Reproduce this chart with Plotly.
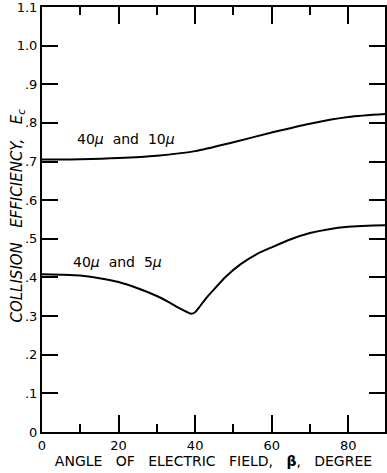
import plotly.graph_objects as go

beta_upper = [0, 10, 20, 30, 40, 50, 60, 70, 80, 90]
E_upper = [0.705, 0.706, 0.709, 0.715, 0.727, 0.750, 0.775, 0.798, 0.815, 0.823]

beta_lower = [0, 5, 10, 15, 20, 25, 30, 33, 36, 38, 39, 40, 41, 43, 45, 48, 52, 56, 60, 65, 70, 75, 80, 85, 90]
E_lower = [0.408, 0.407, 0.405, 0.398, 0.388, 0.372, 0.352, 0.337, 0.32, 0.31, 0.306, 0.31, 0.322, 0.348,
           0.37, 0.402, 0.435, 0.46, 0.478, 0.499, 0.515, 0.525, 0.531, 0.534, 0.535]

y_ticks = [0, 0.1, 0.2, 0.3, 0.4, 0.5, 0.6, 0.7, 0.8, 0.9, 1.0, 1.1]
y_ticktext = ["0", ".1", ".2", ".3", ".4", ".5", ".6", ".7", ".8", ".9", "1.0", "1.1"]
x_ticks = [0, 20, 40, 60, 80]
x_minor_ticks = [10, 30, 50, 70]
x_ticktext = ["0", "20", "40", "60", "80"]

labels = [("40<i>\u03bc</i>  and  10<i>\u03bc</i>", 22, 0.758), ("40<i>\u03bc</i>  and  5<i>\u03bc</i>", 19.6, 0.439)]

FONT = "DejaVu Sans"
XR = [0, 89.6]
YR = [0, 1.1]

fig = go.Figure()
fig.add_trace(go.Scatter(x=beta_upper, y=E_upper, mode="lines",
                         line=dict(color="black", width=2, shape="spline", smoothing=0.8),
                         showlegend=False))
fig.add_trace(go.Scatter(x=beta_lower, y=E_lower, mode="lines",
                         line=dict(color="black", width=2, shape="spline", smoothing=0.6),
                         showlegend=False))
# transparent copies bound to the extra tick axes so that plotly draws them
for xa, ya in [("x2", "y"), ("x3", "y"), ("x", "y2")]:
    fig.add_trace(go.Scatter(x=beta_upper, y=E_upper, xaxis=xa, yaxis=ya, mode="lines",
                             line=dict(color="rgba(0,0,0,0)", width=0), showlegend=False, hoverinfo="skip"))

for txt, bx, ey in labels:
    fig.add_annotation(x=bx, y=ey, text=txt, showarrow=False,
                       font=dict(family=FONT, size=14, color="black"))

fig.add_annotation(xref="paper", yref="paper", x=-0.072, y=0.51,
                   text="<i>COLLISION   EFFICIENCY,   E<sub>c</sub></i>", textangle=-90,
                   showarrow=False, font=dict(family=FONT, size=15, color="black"),
                   xanchor="center", yanchor="middle")

fig.update_layout(
    xaxis=dict(range=XR, tickvals=x_ticks, ticktext=x_ticktext, ticks="inside", ticklen=17,
               tickwidth=1.5, tickcolor="black",
               minor=dict(tickvals=x_minor_ticks, ticks="inside", ticklen=8, tickwidth=1.5, tickcolor="black"),
               showline=True, linewidth=2, linecolor="black", mirror="ticks",
               showgrid=False, zeroline=False,
               tickfont=dict(family=FONT, size=13, color="black"),
               title=dict(text="ANGLE   OF   ELECTRIC   FIELD,   <b>\u03b2</b>,   DEGREE",
                          font=dict(family=FONT, size=14, color="black"), standoff=4)),
    xaxis2=dict(range=XR, tickvals=x_ticks, ticktext=[""] * len(x_ticks), ticks="inside", ticklen=17,
                tickwidth=1.5, tickcolor="black", overlaying="x", side="top", anchor="y",
                showline=True, linecolor="black"),
    xaxis3=dict(range=XR, tickvals=x_minor_ticks, ticktext=[""] * len(x_minor_ticks), ticks="inside",
                ticklen=8, tickwidth=1.5, tickcolor="black", overlaying="x", side="top", anchor="y",
                showline=True, linecolor="black"),
    yaxis=dict(range=YR, tickvals=y_ticks, ticktext=y_ticktext, ticks="inside", ticklen=16,
               tickwidth=1.5, tickcolor="black", showline=True, linewidth=2, linecolor="black",
               mirror="ticks", showgrid=False, zeroline=False, ticklabeloverflow="allow",
               tickfont=dict(family=FONT, size=13, color="black")),
    yaxis2=dict(range=YR, tickvals=y_ticks, ticks="inside", ticklen=16, tickwidth=1.5, tickcolor="black",
                showline=True, linewidth=2, linecolor="black", showgrid=False, zeroline=False,
                overlaying="y", side="right", anchor="x", showticklabels=False),
    width=387, height=473, margin=dict(l=42, r=0, t=7, b=41),
    plot_bgcolor="white", paper_bgcolor="white",
)

fig.write_html("out.html")
